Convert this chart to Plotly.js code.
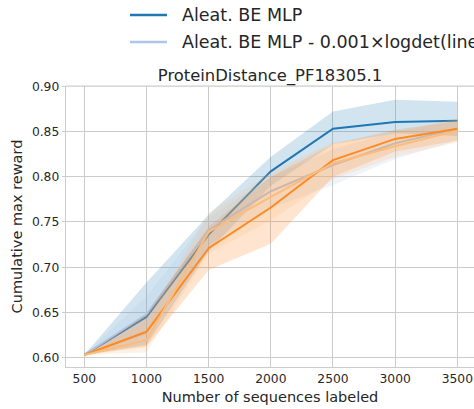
<!DOCTYPE html>
<html>
<head>
<meta charset="utf-8">
<script src="https://cdn.plot.ly/plotly-3.0.1.min.js"></script>
<style>html,body{margin:0;padding:0;overflow:hidden;background:#fff;}#chart{width:474px;height:409px;}</style>
</head>
<body>
<div id="chart"></div>
<script>
const nLabeled = [500, 1000, 1500, 2000, 2500, 3000, 3500];
const yTicks = [0.60, 0.65, 0.70, 0.75, 0.80, 0.85, 0.90];
const yTickLabels = ["0.60", "0.65", "0.70", "0.75", "0.80", "0.85", "0.90"];

const seriesNames = ["Aleat. BE MLP", "Aleat. BE MLP - 0.001×logdet(linear)", "Series 3", "Series 4"];

const blueMean = [0.603, 0.645, 0.736, 0.806, 0.853, 0.8605, 0.862];
const blueLo   = [0.603, 0.614, 0.718, 0.790, 0.836, 0.848, 0.845];
const blueHi   = [0.603, 0.683, 0.758, 0.822, 0.872, 0.885, 0.883];

const lblueMean = [0.603, 0.648, 0.741, 0.784, 0.813, 0.837, 0.853];
const lblueLo   = [0.603, 0.625, 0.725, 0.765, 0.791, 0.8195, 0.840];
const lblueHi   = [0.603, 0.668, 0.755, 0.800, 0.830, 0.850, 0.862];

const orangeMean = [0.603, 0.6286, 0.721, 0.766, 0.8184, 0.8418, 0.853];
const orangeLo   = [0.603, 0.612, 0.697, 0.726, 0.800, 0.828, 0.840];
const orangeHi   = [0.603, 0.648, 0.745, 0.800, 0.836, 0.852, 0.862];

const lorangeMean = [0.603, 0.6195, 0.739, 0.7777, 0.815, 0.8337, 0.851];
const lorangeLo   = [0.603, 0.606, 0.715, 0.752, 0.797, 0.822, 0.838];
const lorangeHi   = [0.603, 0.640, 0.760, 0.805, 0.838, 0.848, 0.865];

const colors = ["#1f77b4", "#aec7e8", "#ff7f0e", "#ffbb78"];
const fills = ["rgba(31,119,180,0.2)", "rgba(174,199,232,0.2)", "rgba(255,127,14,0.2)", "rgba(255,187,120,0.2)"];

const series = [
  [blueMean, blueLo, blueHi],
  [lblueMean, lblueLo, lblueHi],
  [orangeMean, orangeLo, orangeHi],
  [lorangeMean, lorangeLo, lorangeHi]
];

const traces = [];
series.forEach((s, i) => {
  const [m, lo, hi] = s;
  traces.push({
    x: nLabeled.concat(nLabeled.slice().reverse()),
    y: hi.concat(lo.slice().reverse()),
    type: "scatter", mode: "lines", fill: "toself",
    fillcolor: fills[i], line: {width: 0, color: fills[i]},
    hoverinfo: "skip", showlegend: false
  });
  traces.push({
    x: nLabeled, y: m, type: "scatter", mode: "lines",
    name: seriesNames[i], line: {color: colors[i], width: 2},
    showlegend: false
  });
});

const L = 66, T = 86, W = 474 - 66, H = 367 - 86;
const px = v => (v - L) / W;
const py = v => (367 - v) / H;

const layout = {
  width: 474, height: 409,
  margin: {l: L, r: 0, t: T, b: 409 - 367, pad: 0},
  paper_bgcolor: "#ffffff", plot_bgcolor: "#ffffff",
  font: {family: "DejaVu Sans", color: "#262626", size: 12.3},
  title: {text: "ProteinDistance_PF18305.1", font: {size: 16.4, color: "#262626"},
          x: 0.5, xref: "paper", y: 1 - 75 / 409, yref: "container", yanchor: "middle"},
  showlegend: false,
  xaxis: {
    range: [352.8, 3634], tickvals: nLabeled, ticktext: nLabeled.map(String),
    showgrid: true, gridcolor: "#cccccc", gridwidth: 1,
    zeroline: false, showline: true, linecolor: "#cccccc", linewidth: 1.25, mirror: false,
    ticks: "", tickfont: {size: 12.3, color: "#262626"},
    title: {text: "Number of sequences labeled", font: {size: 14.5, color: "#262626"}, standoff: 6}
  },
  yaxis: {
    range: [0.5897, 0.9003], tickvals: yTicks, ticktext: yTickLabels,
    showgrid: true, gridcolor: "#cccccc", gridwidth: 1,
    zeroline: false, showline: true, linecolor: "#cccccc", linewidth: 1.25, mirror: false,
    ticks: "outside", ticklen: 3, tickcolor: "#cccccc", tickwidth: 1,
    tickfont: {size: 12.3, color: "#262626"},
    title: {text: "Cumulative max reward", font: {size: 14.5, color: "#262626"}, standoff: 5}
  },
  shapes: [
    {type: "line", xref: "paper", yref: "paper", x0: 0, x1: 1, y0: 1, y1: 1, line: {color: "#cccccc", width: 1.25}},
    {type: "line", xref: "paper", yref: "paper", x0: px(130), x1: px(167), y0: py(15), y1: py(15), line: {color: colors[0], width: 2.5}},
    {type: "line", xref: "paper", yref: "paper", x0: px(130), x1: px(167), y0: py(42), y1: py(42), line: {color: colors[1], width: 2.5}}
  ],
  annotations: [
    {xref: "paper", yref: "paper", x: px(180), y: py(15), xanchor: "left", yanchor: "middle",
     text: seriesNames[0], showarrow: false, font: {size: 17.5, color: "#262626"}},
    {xref: "paper", yref: "paper", x: px(180), y: py(42), xanchor: "left", yanchor: "middle",
     text: seriesNames[1], showarrow: false, font: {size: 17.5, color: "#262626"}}
  ]
};

Plotly.newPlot("chart", traces, layout, {displayModeBar: false, staticPlot: true});
</script>
</body>
</html>
